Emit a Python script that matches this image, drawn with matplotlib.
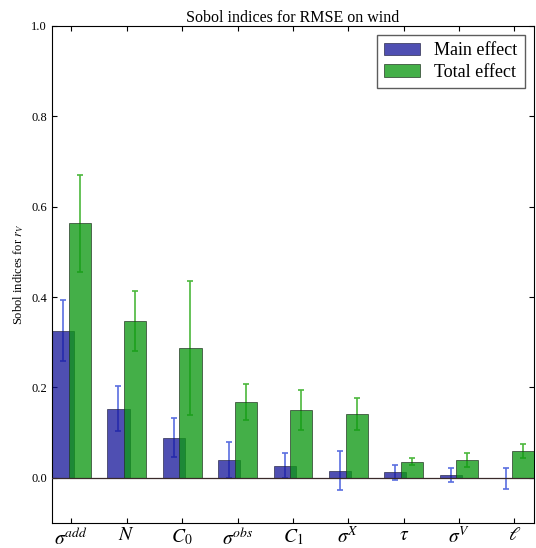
import matplotlib
matplotlib.use('Agg')
import matplotlib.pyplot as plt
import numpy as np

plt.rc('font', family='Liberation Serif', size=9)
plt.rc('mathtext', fontset='stix')
plt.rc('xtick', direction='in', top=True)
plt.rc('ytick', direction='in', right=True)

params = [r'$\sigma^{add}$', r'$N$', r'$C_0$', r'$\sigma^{obs}$', r'$C_1$',
          r'$\sigma^{X}$', r'$\tau$', r'$\sigma^{V}$', r'$\ell$']
main_effect = [0.326, 0.153, 0.089, 0.039, 0.027, 0.016, 0.012, 0.006, -0.001]
main_err = [0.067, 0.050, 0.044, 0.040, 0.027, 0.043, 0.016, 0.016, 0.023]
total_effect = [0.563, 0.347, 0.288, 0.168, 0.150, 0.141, 0.036, 0.039, 0.059]
total_err = [0.107, 0.067, 0.148, 0.040, 0.045, 0.036, 0.008, 0.015, 0.015]

x = np.arange(len(params))
w = 0.4

fig = plt.figure(figsize=(5.36, 5.48), dpi=100)
ax = fig.add_axes([0.097, 0.0456, 0.899, 0.907])

ax.errorbar(x - 0.15, main_effect, yerr=main_err, fmt='none', ecolor='#5a6ee0',
            elinewidth=1.2, capsize=2.5, capthick=1.2, zorder=1)
ax.errorbar(x + 0.15, total_effect, yerr=total_err, fmt='none', ecolor='#4cb83c',
            elinewidth=1.2, capsize=2.5, capthick=1.2, zorder=1)
ax.bar(x - 0.15, main_effect, w, color=(0.08, 0.08, 0.6), alpha=0.75,
       edgecolor='#202040', linewidth=0.6, label='Main effect', zorder=2)
ax.bar(x + 0.15, total_effect, w, color=(0.06, 0.6, 0.08), alpha=0.78,
       edgecolor='#203020', linewidth=0.6, label='Total effect', zorder=3)
ax.axhline(0, color='#3a2a2a', linewidth=0.9, zorder=4)

ax.set_xlim(-0.35, 8.35)
ax.set_ylim(-0.1, 1.0)
ax.set_yticks([0.0, 0.2, 0.4, 0.6, 0.8, 1.0])
ax.set_xticks(x)
ax.set_xticklabels(params, fontsize=14)
ax.tick_params(axis='x', pad=3)
ax.set_ylabel(r'Sobol indices for $r_V$', fontsize=9)
ax.set_title('Sobol indices for RMSE on wind', fontsize=11.5, pad=2)

leg = ax.legend(loc='upper right', fontsize=13, fancybox=False,
                handlelength=2.0, labelspacing=0.25, borderaxespad=0.5)
leg.get_frame().set_edgecolor('#333333')
leg.get_frame().set_linewidth(1.0)

fig.savefig('out.png', dpi=100)
